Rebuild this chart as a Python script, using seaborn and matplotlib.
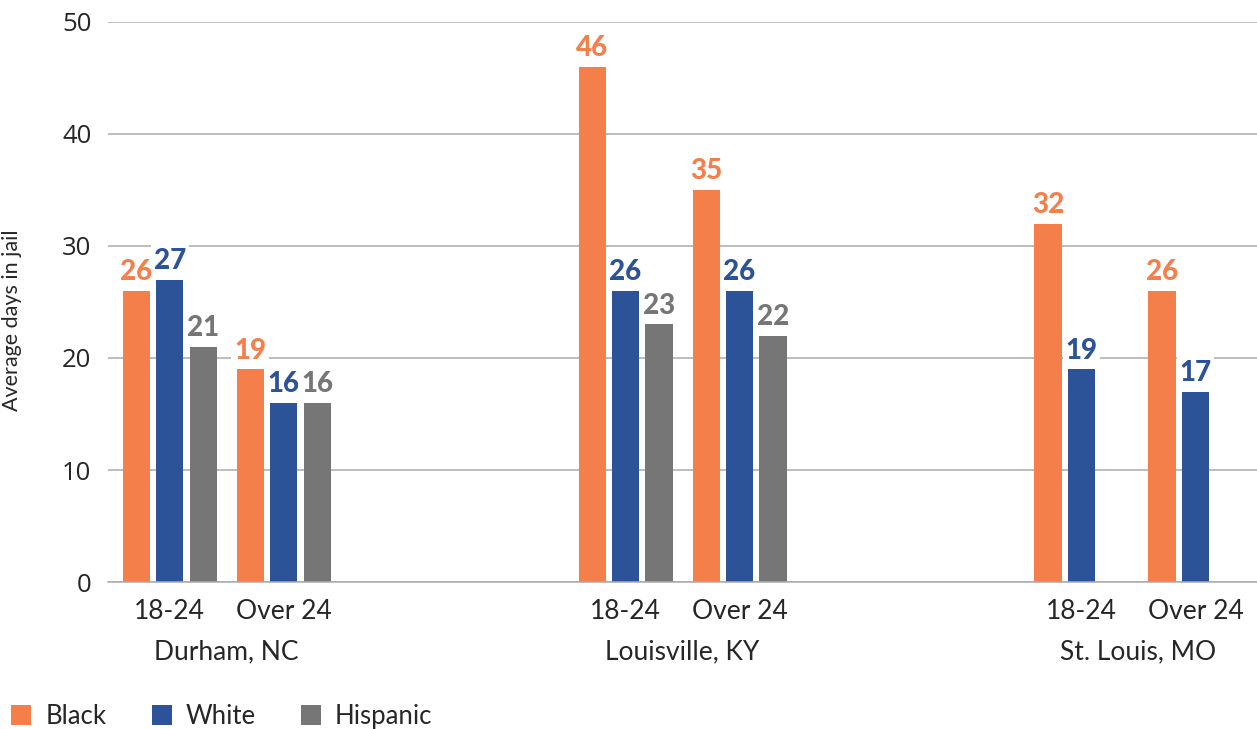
import matplotlib
matplotlib.use("Agg")
import matplotlib.pyplot as plt
import matplotlib.transforms as mtransforms
from matplotlib.patches import Patch
import pandas as pd
import seaborn as sns

# Average days in jail by city, age group and race
cities = ["Durham, NC", "Louisville, KY", "St. Louis, MO"]
ages = ["18-24", "Over 24"]
races = ["Black", "White", "Hispanic"]
black = [26, 19, 46, 35, 32, 26]
white = [27, 16, 26, 26, 19, 17]
hispanic = [21, 16, 23, 22, None, None]
palette = {"Black": "#F47F4B", "White": "#2C5297", "Hispanic": "#767676"}

sns.set_theme(style="white")
plt.rcParams["font.family"] = ["Lato", "DejaVu Sans"]

# long-form table; each city takes two age slots followed by two empty slots
rows = []
series = {"Black": black, "White": white, "Hispanic": hispanic}
for race in races:
    for i, val in enumerate(series[race]):
        if val is None:
            continue
        ci, ai = divmod(i, len(ages))
        rows.append({"city": cities[ci], "age": ages[ai], "race": race,
                     "days": val, "slot": ci * 4 + ai})
df = pd.DataFrame(rows)

fig = plt.figure(figsize=(12.57, 7.29), dpi=100)
ax = fig.add_axes([0.086, 0.2016, 0.914, 0.7683])

sns.barplot(data=df, x="slot", y="days", hue="race", hue_order=races,
            palette=palette, native_scale=True, width=0.88, gap=0.19,
            errorbar=None, legend=False, saturation=1, linewidth=0,
            ax=ax, zorder=2)

ax.set_ylim(0, 50)
ax.set_xlim(-0.54, 9.54)
ax.set_yticks(range(0, 51, 10))
ax.yaxis.grid(True, color="#ABABAB", linewidth=1.1, zorder=0)
ax.set_axisbelow(True)
for side in ["left", "right", "top"]:
    ax.spines[side].set_visible(False)
ax.spines["bottom"].set_color("#ABABAB")
ax.spines["bottom"].set_linewidth(1.1)
ax.spines["bottom"].set_zorder(3)

slots = sorted(df["slot"].unique())
ax.set_xticks(slots)
ax.set_xticklabels([ages[int(s) % 4] for s in slots], fontsize=19)
ax.tick_params(axis="x", length=0, pad=12)
ax.tick_params(axis="y", length=0, pad=12, labelsize=18.5)
for lab in ax.get_yticklabels():
    lab.set_fontfamily(["Open Sans", "DejaVu Sans"])

ax.set_xlabel("")
ax.set_ylabel("Average days in jail", fontsize=15.5)
ax.yaxis.set_label_coords(-0.075, 0.468)

# city names under each pair of age groups
trans = mtransforms.blended_transform_factory(ax.transData, ax.transAxes)
for ci, city in enumerate(cities):
    ax.text(ci * 4 + 0.5, -0.125, city, transform=trans, ha="center",
            va="center", fontsize=19)

# value labels over the bars
for bar in ax.patches:
    h = bar.get_height()
    if h != h or h == 0:
        continue
    ax.annotate(f"{h:.0f}", (bar.get_x() + bar.get_width() / 2, h),
                xytext=(0, 4), textcoords="offset points", ha="center",
                va="bottom", fontsize=20, fontweight="black",
                color=bar.get_facecolor(), zorder=4,
                bbox=dict(boxstyle="square,pad=0.1", fc="white", ec="none"))

handles = [Patch(facecolor=palette[r], edgecolor="none", label=r) for r in races]
fig.legend(handles=handles, loc="lower left", bbox_to_anchor=(0.009, 0.0),
           ncol=3, frameon=False, fontsize=18.5, handlelength=0.78,
           handleheight=0.78, handletextpad=0.55, columnspacing=1.75,
           borderpad=0, borderaxespad=0)

fig.savefig("out.png", dpi=100)
